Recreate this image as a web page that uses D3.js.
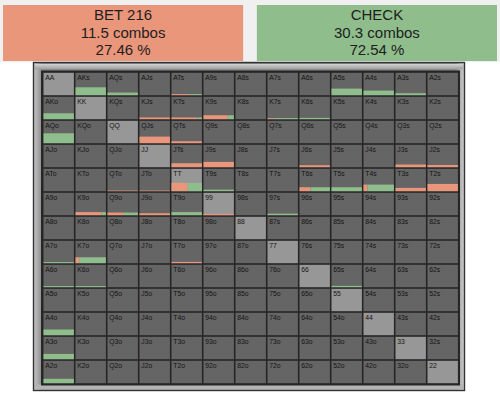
<!DOCTYPE html>
<html>
<head>
<meta charset="utf-8">
<script src="https://cdn.jsdelivr.net/npm/d3@7"></script>
<style>
  body { margin: 0; background: #fff; }
  svg { display: block; }
</style>
</head>
<body>
<svg id="chart" width="500" height="395"></svg>
<script>
// header summary
const actions = ["BET 216", "CHECK"];
const actionCombos = [11.5, 30.3];
const actionPct = [27.46, 72.54];
const actionColors = ["#ea967b", "#8fbd8c"];

// grid ranks
const ranks = ["A", "K", "Q", "J", "T", "9", "8", "7", "6", "5", "4", "3", "2"];

// hands in range, share of combos (bar height) and share that bets
const hands   = ["AKs","AQs","ATs","A5s","A4s","A3s",
                 "AKo","KJs","KTs","K9s","K7s","K6s",
                 "AQo","QJs","QTs",
                 "JTs","J9s","J6s","J3s","J2s",
                 "QTo","JTo","TT","T9s","T6s","T5s","T4s","T3s","T2s",
                 "K9o","Q9o","J9o","T9o","99","97s",
                 "A7o","K7o","T7o",
                 "A6o","K6o","65s",
                 "A4o","A3o","A2o"];
const weight  = [0.36,0.12,0.05,0.30,0.21,0.09,
                 0.27,0.08,0.08,0.18,0.05,0.06,
                 0.45,0.30,0.09,
                 0.18,0.24,0.09,0.12,0.10,
                 0.03,0.03,0.38,0.07,0.18,0.18,0.30,0.15,0.33,
                 0.14,0.12,0.09,0.14,0.06,0.07,
                 0.05,0.27,0.06,
                 0.05,0.05,0.06,
                 0.26,0.24,0.20];
const betShare = [0,0,0.6,0,0,0,
                  0,1,0.85,0.8,0.2,0,
                  0,1,1,
                  1,1,1,1,1,
                  1,1,0.53,0,0.36,0,0.13,1,1,
                  0.86,0.54,1,0,1,0,
                  0,0.12,1,
                  0,0,0,
                  0,0,0];

const svg = d3.select("#chart");

// header strip
svg.append("rect").attr("x", 0).attr("y", 0).attr("width", 500).attr("height", 62).attr("fill", "#f0f0f0");

const hx = d3.scaleBand().domain(actions).range([3, 497]).paddingInner(0.054);
const head = svg.selectAll("g.head").data(actions).enter().append("g")
  .attr("class", "head")
  .attr("transform", d => `translate(${hx(d)},5)`);
head.append("rect")
  .attr("width", hx.bandwidth()).attr("height", 56)
  .attr("fill", (d, i) => actionColors[i]);
head.append("text")
  .attr("x", hx.bandwidth() / 2)
  .attr("text-anchor", "middle")
  .attr("font-family", "Liberation Sans, Arial, sans-serif")
  .attr("font-size", 15)
  .attr("fill", "#1e1e1e")
  .selectAll("tspan")
  .data((d, i) => [d, `${actionCombos[i]} combos`, `${actionPct[i].toFixed(2)} %`])
  .enter().append("tspan")
  .attr("x", hx.bandwidth() / 2)
  .attr("y", (d, i) => 15 + i * 17.5)
  .text(d => d);

// frame
const defs = svg.append("defs");
const grad = defs.append("linearGradient").attr("id", "frame").attr("x1", 0).attr("y1", 0).attr("x2", 0).attr("y2", 1);
grad.append("stop").attr("offset", "0%").attr("stop-color", "#d4d4d4");
grad.append("stop").attr("offset", "100%").attr("stop-color", "#a0a0a0");
const gradH = defs.append("linearGradient").attr("id", "frameH").attr("x1", 0).attr("y1", 0).attr("x2", 1).attr("y2", 0);
gradH.append("stop").attr("offset", "0%").attr("stop-color", "#c8c8c8");
gradH.append("stop").attr("offset", "2%").attr("stop-color", "#8a8a8a");
gradH.append("stop").attr("offset", "98%").attr("stop-color", "#8a8a8a");
gradH.append("stop").attr("offset", "100%").attr("stop-color", "#d0d0d0");

svg.append("rect").attr("x", 33.5).attr("y", 62.5).attr("width", 431).attr("height", 328)
  .attr("fill", "url(#frameH)").attr("stroke", "#333").attr("stroke-width", 1.4);
svg.append("rect").attr("x", 35).attr("y", 64).attr("width", 428).attr("height", 5)
  .attr("fill", "url(#frame)");
svg.append("rect").attr("x", 35).attr("y", 384.5).attr("width", 428).attr("height", 5)
  .attr("fill", "#b4b4b4");

// grid
const x = d3.scaleBand().domain(ranks).range([42.7, 458.7]);
const y = d3.scaleBand().domain(ranks).range([72, 384]);
const cw = x.bandwidth(), ch = y.bandwidth();

svg.append("rect").attr("x", 41).attr("y", 70.5).attr("width", 419).attr("height", 315)
  .attr("fill", "#262626");

const cells = [];
ranks.forEach((r, i) => ranks.forEach((c, j) => {
  let name;
  if (i === j) name = r + c;
  else if (j > i) name = r + c + "s";
  else name = c + r + "o";
  cells.push({ row: r, col: c, name, pair: i === j });
}));

const byHand = new Map(hands.map((h, k) => [h, { w: weight[k], b: betShare[k] }]));
const barH = d3.scaleLinear().domain([0, 1]).range([0, ch - 2]);

const cell = svg.selectAll("g.cell").data(cells).enter().append("g")
  .attr("class", "cell")
  .attr("transform", d => `translate(${x(d.col)},${y(d.row)})`);

cell.append("rect")
  .attr("x", 0.8).attr("y", 0.8)
  .attr("width", cw - 1.6).attr("height", ch - 1.6)
  .attr("fill", d => d.pair ? "#979797" : "#656565");

cell.append("text")
  .attr("x", 2.6).attr("y", 7.8)
  .attr("font-family", "Liberation Sans, Arial, sans-serif")
  .attr("font-size", 6.8)
  .attr("fill", "#141414")
  .text(d => d.name);

const inRange = cell.filter(d => byHand.has(d.name));
const bx = d3.scaleLinear().domain([0, 1]).range([0.8, cw - 0.8]);

inRange.append("rect")
  .attr("x", bx(0))
  .attr("y", d => ch - 0.8 - barH(byHand.get(d.name).w))
  .attr("width", d => bx(byHand.get(d.name).b) - bx(0))
  .attr("height", d => barH(byHand.get(d.name).w))
  .attr("fill", actionColors[0]);

inRange.append("rect")
  .attr("x", d => bx(byHand.get(d.name).b))
  .attr("y", d => ch - 0.8 - barH(byHand.get(d.name).w))
  .attr("width", d => bx(1) - bx(byHand.get(d.name).b))
  .attr("height", d => barH(byHand.get(d.name).w))
  .attr("fill", actionColors[1]);
</script>
</body>
</html>
